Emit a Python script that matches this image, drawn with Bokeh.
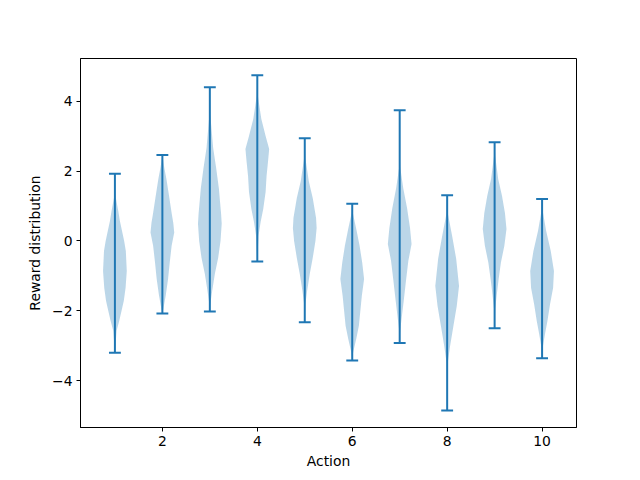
from bokeh.plotting import figure
from bokeh.models import Range1d, FixedTicker
from bokeh.embed import file_html
from bokeh.resources import INLINE
import numpy as np

actions = [1, 2, 3, 4, 5, 6, 7, 8, 9, 10]
maxes = [1.92, 2.46, 4.40, 4.74, 2.94, 1.06, 3.74, 1.31, 2.82, 1.20]
mins = [-3.20, -2.08, -2.02, -0.59, -2.33, -3.42, -2.92, -4.85, -2.50, -3.36]

# violin outlines: y levels and relative half-widths (1 = widest)
prof_y = [
    [1.92, 1.3, 0.86, 0.57, 0.0, -0.29, -0.86, -1.34, -1.71, -2.0, -2.29, -2.57, -3.2],
    [2.46, 2.14, 1.77, 1.29, 0.8, 0.51, 0.24, -0.14, -0.62, -1.09, -1.57, -1.95, -2.08],
    [4.4, 3.6, 2.66, 2.09, 1.51, 0.77, 0.49, 0.0, -0.49, -0.95, -1.43, -1.81, -2.02],
    [4.74, 4.14, 3.49, 3.0, 2.63, 2.26, 1.86, 1.4, 0.91, 0.54, 0.14, -0.59],
    [2.94, 2.37, 1.71, 1.23, 0.66, 0.37, 0.0, -0.49, -0.95, -1.43, -1.81, -2.33],
    [1.06, 0.8, 0.34, -0.14, -0.62, -1.09, -1.57, -1.95, -2.43, -2.8, -3.19, -3.42],
    [3.74, 2.6, 2.09, 1.51, 0.94, 0.37, -0.09, -0.57, -1.14, -1.71, -2.2, -2.57, -2.92],
    [1.31, 0.8, 0.14, -0.51, -1.29, -1.86, -2.43, -3.0, -3.49, -4.2, -4.85],
    [2.82, 2.43, 1.77, 1.29, 0.8, 0.34, -0.14, -0.62, -1.09, -1.57, -1.95, -2.5],
    [1.20, 0.86, 0.29, -0.29, -0.86, -1.34, -1.81, -2.29, -2.66, -3.06, -3.36],
]
prof_w = [
    [0, 0.04, 0.28, 0.42, 0.78, 0.92, 1.0, 0.9, 0.75, 0.56, 0.36, 0.14, 0],
    [0, 0.14, 0.34, 0.56, 0.78, 0.92, 1.0, 0.78, 0.62, 0.48, 0.28, 0.08, 0],
    [0, 0.04, 0.28, 0.53, 0.76, 0.95, 1.0, 0.9, 0.7, 0.42, 0.2, 0.04, 0],
    [0, 0.05, 0.34, 0.7, 1.0, 0.9, 0.78, 0.7, 0.5, 0.28, 0.1, 0],
    [0, 0.05, 0.34, 0.67, 0.95, 1.0, 0.9, 0.67, 0.42, 0.2, 0.05, 0],
    [0, 0.05, 0.34, 0.62, 0.84, 1.0, 0.81, 0.7, 0.56, 0.34, 0.08, 0],
    [0, 0.01, 0.05, 0.3, 0.62, 0.87, 1.0, 0.73, 0.53, 0.34, 0.17, 0.04, 0],
    [0, 0.05, 0.42, 0.76, 1.0, 0.81, 0.53, 0.25, 0.05, 0.01, 0],
    [0, 0.05, 0.3, 0.62, 0.87, 1.0, 0.82, 0.53, 0.34, 0.17, 0.05, 0],
    [0, 0.05, 0.34, 0.73, 1.0, 0.93, 0.67, 0.45, 0.25, 0.05, 0],
]

x_ticks = [2, 4, 6, 8, 10]
y_ticks = [-4, -2, 0, 2, 4]

C0 = "#1f77b4"
FONT = "DejaVu Sans"
HALF = 0.25   # violin half-width (widths=0.5)
CAP = 0.125

p = figure(width=640, height=480, output_backend="svg", toolbar_location=None,
           x_range=Range1d(0.275, 10.725), y_range=Range1d(-5.34, 5.22))
p.min_border_left = 80
p.min_border_right = 64
p.min_border_top = 58
p.min_border_bottom = 53
p.grid.visible = False
p.outline_line_color = "black"
p.outline_line_width = 1
p.background_fill_color = "white"
p.border_fill_color = "white"

for a, ys, ws in zip(actions, prof_y, prof_w):
    ys = np.asarray(ys, dtype=float)
    ws = np.asarray(ws, dtype=float) * HALF
    p.harea(x1=a - ws, x2=a + ws, y=ys, fill_color=C0, fill_alpha=0.3)

p.segment(x0=actions, x1=actions, y0=mins, y1=maxes, line_color=C0, line_width=2)
p.segment(x0=[a - CAP for a in actions], x1=[a + CAP for a in actions],
          y0=maxes, y1=maxes, line_color=C0, line_width=2)
p.segment(x0=[a - CAP for a in actions], x1=[a + CAP for a in actions],
          y0=mins, y1=mins, line_color=C0, line_width=2)

for ax in (p.xaxis, p.yaxis):
    ax.axis_line_color = "black"
    ax.major_tick_line_color = "black"
    ax.major_tick_out = 4
    ax.major_tick_in = 0
    ax.minor_tick_line_color = None
    ax.major_label_text_font = FONT
    ax.major_label_text_font_size = "13.9px"
    ax.major_label_text_color = "black"
    ax.axis_label_text_font = FONT
    ax.axis_label_text_font_size = "13.9px"
    ax.axis_label_text_font_style = "normal"
    ax.axis_label_text_color = "black"
    ax.major_label_standoff = 4

p.xaxis.ticker = FixedTicker(ticks=x_ticks)
p.yaxis.ticker = FixedTicker(ticks=y_ticks)
p.yaxis.major_label_overrides = {t: str(t).replace("-", "\u2212") for t in y_ticks}
p.xaxis.axis_label = "Action"
p.yaxis.axis_label = "Reward distribution"
p.xaxis.axis_label_standoff = 4
p.yaxis.axis_label_standoff = 6

open("out.html", "w").write(file_html(p, INLINE))
